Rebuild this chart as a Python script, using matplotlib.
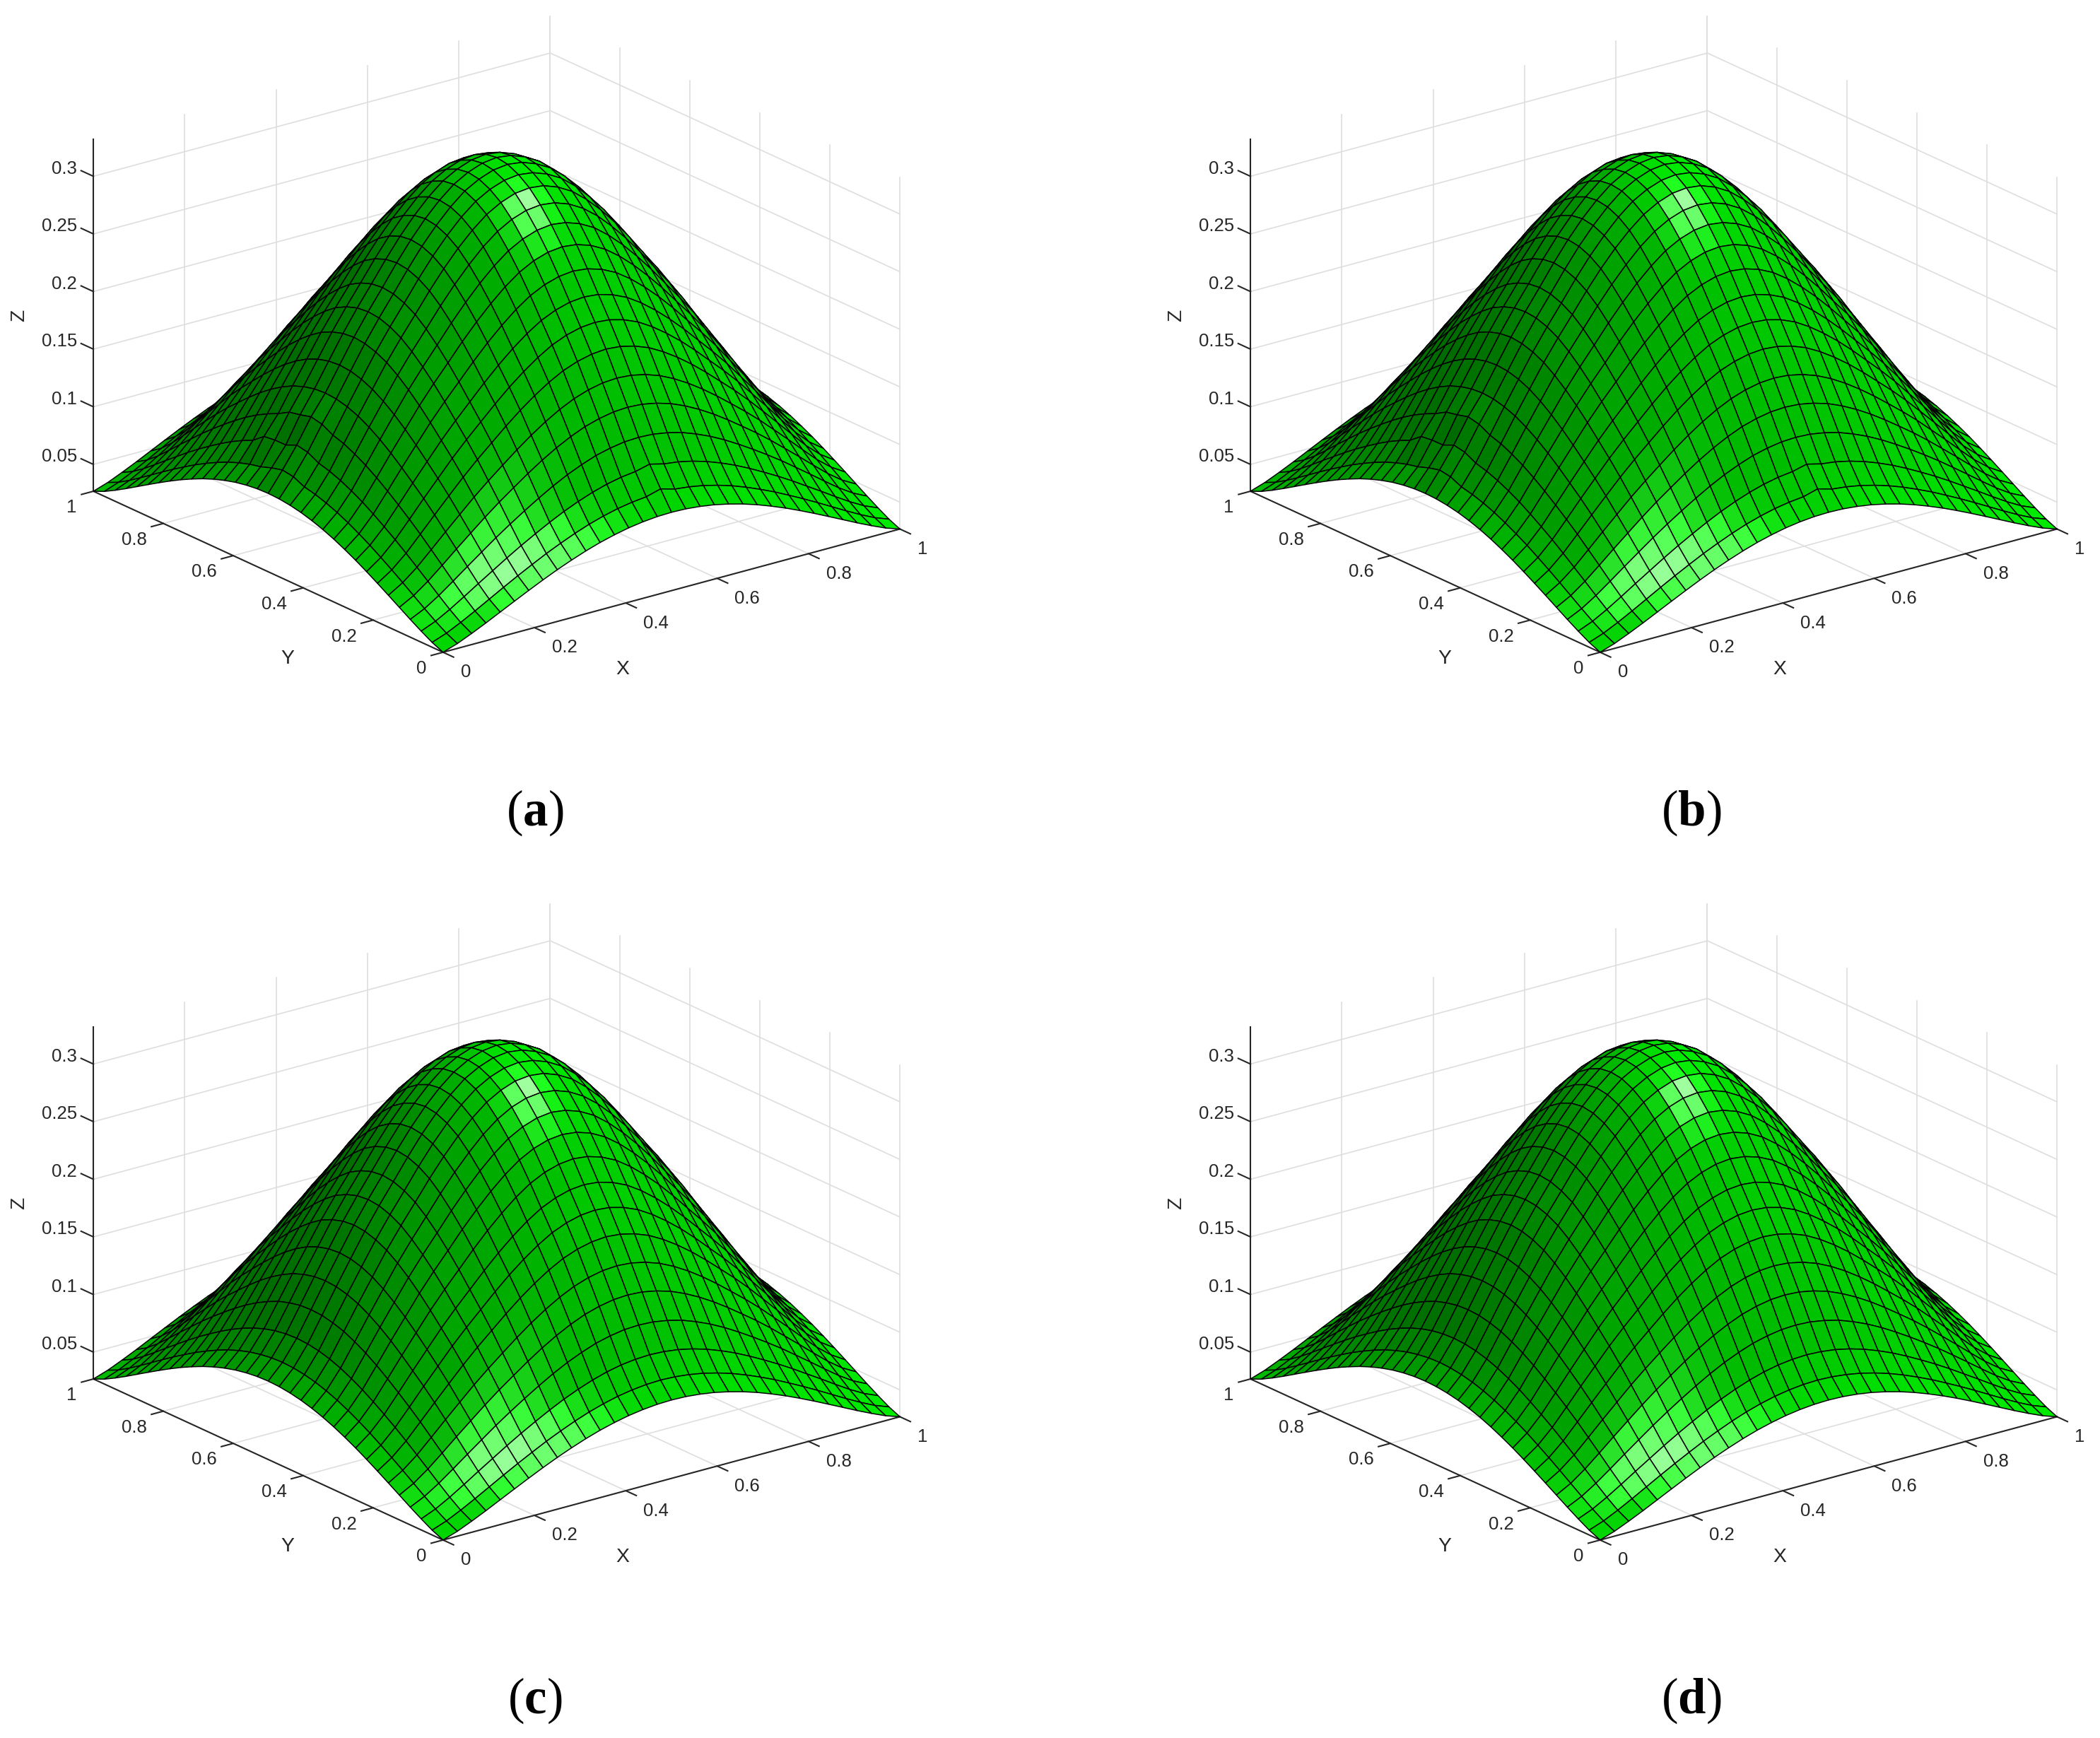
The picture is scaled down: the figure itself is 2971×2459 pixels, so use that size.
import matplotlib
matplotlib.use("Agg")
import matplotlib.pyplot as plt
import numpy as np
from mpl_toolkits.mplot3d import proj3d

plt.rcParams['font.family'] = ['Liberation Sans', 'DejaVu Sans']
plt.rcParams['mathtext.fontset'] = 'custom'
plt.rcParams['mathtext.rm'] = 'Liberation Serif'
plt.rcParams['mathtext.bf'] = 'Liberation Serif:bold'

# heights, x 0..0.5 (rows) and y 0..0.5 (columns), in 1e-4
Z_QUARTER = [
    [267, 309, 363, 421, 482, 543, 603, 661, 716, 766, 812, 852, 885, 912, 931, 943, 947],
    [309, 355, 415, 481, 550, 619, 686, 750, 812, 868, 920, 966, 1004, 1035, 1057, 1071, 1076],
    [363, 415, 484, 561, 641, 719, 797, 871, 940, 1006, 1067, 1120, 1166, 1203, 1230, 1246, 1252],
    [421, 481, 561, 652, 746, 838, 929, 1014, 1095, 1172, 1244, 1308, 1362, 1408, 1439, 1460, 1466],
    [482, 550, 641, 746, 854, 959, 1063, 1161, 1252, 1341, 1424, 1498, 1562, 1615, 1652, 1676, 1684],
    [543, 619, 719, 838, 959, 1077, 1194, 1302, 1404, 1504, 1597, 1681, 1754, 1814, 1857, 1884, 1893],
    [603, 686, 797, 929, 1063, 1194, 1323, 1443, 1555, 1666, 1770, 1863, 1945, 2013, 2060, 2090, 2101],
    [661, 750, 871, 1014, 1161, 1302, 1443, 1572, 1693, 1814, 1927, 2028, 2118, 2193, 2245, 2278, 2289],
    [716, 812, 940, 1095, 1252, 1404, 1555, 1693, 1823, 1953, 2074, 2184, 2281, 2362, 2418, 2454, 2466],
    [766, 868, 1006, 1172, 1341, 1504, 1666, 1814, 1953, 2093, 2224, 2342, 2447, 2534, 2595, 2633, 2647],
    [812, 920, 1067, 1244, 1424, 1597, 1770, 1927, 2074, 2224, 2362, 2488, 2600, 2693, 2759, 2800, 2814],
    [852, 966, 1120, 1308, 1498, 1681, 1863, 2028, 2184, 2342, 2488, 2621, 2738, 2836, 2904, 2947, 2963],
    [885, 1004, 1166, 1362, 1562, 1754, 1945, 2118, 2281, 2447, 2600, 2738, 2861, 2960, 3031, 3075, 3090],
    [912, 1035, 1203, 1408, 1615, 1814, 2013, 2193, 2362, 2534, 2693, 2836, 2960, 3063, 3134, 3180, 3194],
    [931, 1057, 1230, 1439, 1652, 1857, 2060, 2245, 2418, 2595, 2759, 2904, 3031, 3134, 3204, 3249, 3265],
    [943, 1071, 1246, 1460, 1676, 1884, 2090, 2278, 2454, 2633, 2800, 2947, 3075, 3180, 3249, 3295, 3311],
    [947, 1076, 1252, 1466, 1684, 1893, 2101, 2289, 2466, 2647, 2814, 2963, 3090, 3194, 3265, 3311, 3327],
]
# kinks seen only in panels a and b: (x index, y index, change in 1e-4)
KINKS_AB = [(1, 15, 30), (1, 16, 40), (1, 17, 20), (2, 15, 34), (2, 16, 47), (2, 17, 10),
            (2, 18, 25), (2, 19, 40), (3, 15, 30), (3, 16, 45), (3, 17, 25), (3, 18, 25),
            (16, 1, 30), (16, 2, 25)]

panel_names = ['a', 'b', 'c', 'd']
x_ticks = [0, 0.2, 0.4, 0.6, 0.8, 1]
y_ticks = [0, 0.2, 0.4, 0.6, 0.8, 1]
z_ticks = [0.05, 0.1, 0.15, 0.2, 0.25, 0.3]
x_labels = ['0', '0.2', '0.4', '0.6', '0.8', '1']
y_labels = ['0', '0.2', '0.4', '0.6', '0.8', '1']
z_labels = ['0.05', '0.1', '0.15', '0.2', '0.25', '0.3']

Z_LO = 0.0267
Z_HI = 0.332
ASPECT = 0.6535
W, H = 2971, 2459
AX_PX = 1231
CENTER = {'a': (686, 489.5), 'b': (2323, 489.5), 'c': (686, 1745.5), 'd': (2323, 1745.5)}
CAPTION = {'a': (757, 1150), 'b': (2393, 1150), 'c': (757, 2406), 'd': (2393, 2406)}

LIGHT = np.array([0.207, -0.286, 0.936])
HALF_TOP = np.array([-0.16, -0.78, 1.0])
HALF_FRONT = np.array([-0.5, -0.75, 1.0])
FADE_FRONT = [1, 1, 0.9, 0.6, 0.3, 0.1]
FADE_TOP = [0, 0.1, 0.3, 0.6, 0.85]
DARK = (0.15, 0.15, 0.15)
GRID = (0.87, 0.87, 0.87)


def tabla_completa(kinks):
    q = np.array(Z_QUARTER, dtype=float) / 1e4
    top = np.hstack([q, q[:, -2::-1]])
    z = np.vstack([top, top[-2::-1, :]])
    for i, j, dz in kinks:
        z[i, j] += dz / 1e4
    return z


def colores(z):
    # flat MATLAB-like phong shading per cell, hot spots placed by hand
    n = z.shape[0] - 1
    zb = (z - Z_LO) / (Z_HI - Z_LO) * ASPECT
    dx = (zb[1:, :-1] + zb[1:, 1:] - zb[:-1, :-1] - zb[:-1, 1:]) / 2 * n
    dy = (zb[:-1, 1:] + zb[1:, 1:] - zb[:-1, :-1] - zb[1:, :-1]) / 2 * n
    norm = np.sqrt(dx**2 + dy**2 + 1)
    nor = np.dstack([-dx / norm, -dy / norm, 1 / norm])
    luz = LIGHT / np.linalg.norm(LIGHT)
    dif = np.clip(nor @ luz, 0, 1)
    s_top = np.clip(nor @ (HALF_TOP / np.linalg.norm(HALF_TOP)), 0, 1) ** 80
    s_front = np.clip(nor @ (HALF_FRONT / np.linalg.norm(HALF_FRONT)), 0, 1) ** 80
    peso_front = np.zeros(n)
    peso_front[:len(FADE_FRONT)] = FADE_FRONT
    peso_top = np.ones(n)
    peso_top[:8] = 0
    peso_top[8:8 + len(FADE_TOP)] = FADE_TOP
    spec = 0.6 * peso_front * s_front + 0.85 * peso_top * s_top
    g = 0.2 + 0.72 * dif + 1.1 * spec
    r = spec
    col = np.dstack([r, g, r, np.ones_like(r)])
    return np.clip(col, 0, 1)


def texto(ax, x, y, z, s, **kw):
    # 2D annotation at the projected point of the 3D axes
    px, py, _ = proj3d.proj_transform(x, y, z, ax.get_proj())
    ax.annotate(s, (px, py), color=DARK, annotation_clip=False, **kw)


def panel(fig, nombre, z):
    cx, cy = CENTER[nombre]
    ax = fig.add_axes([(cx - AX_PX / 2) / W, 1 - (cy + AX_PX / 2) / H, AX_PX / W, AX_PX / H],
                      projection='3d', proj_type='ortho')
    ax.computed_zorder = False
    ax.patch.set_alpha(0)
    ax.set_box_aspect((1, 1, ASPECT))
    ax.view_init(elev=20.64, azim=-127.43)
    ax.set_xlim(0, 1, view_margin=0)
    ax.set_ylim(0, 1, view_margin=0)
    ax.set_zlim(Z_LO, Z_HI, view_margin=0)
    ax.set_xticks([])
    ax.set_yticks([])
    ax.set_zticks([])
    ax.set_axis_off()

    # back walls and floor
    for t in x_ticks:
        ax.plot([t, t], [0, 1], [Z_LO, Z_LO], color=GRID, lw=0.4, zorder=1)
        ax.plot([t, t], [1, 1], [Z_LO, Z_HI], color=GRID, lw=0.4, zorder=1)
    for t in y_ticks:
        ax.plot([0, 1], [t, t], [Z_LO, Z_LO], color=GRID, lw=0.4, zorder=1)
        ax.plot([1, 1], [t, t], [Z_LO, Z_HI], color=GRID, lw=0.4, zorder=1)
    for t in z_ticks:
        ax.plot([0, 1], [1, 1], [t, t], color=GRID, lw=0.4, zorder=1)
        ax.plot([1, 1], [0, 1], [t, t], color=GRID, lw=0.4, zorder=1)

    # axis lines and ticks
    ax.plot([0, 1], [0, 0], [Z_LO, Z_LO], color=DARK, lw=0.5, zorder=2)
    ax.plot([0, 0], [0, 1], [Z_LO, Z_LO], color=DARK, lw=0.5, zorder=2)
    ax.plot([0, 0], [1, 1], [Z_LO, Z_HI], color=DARK, lw=0.5, zorder=2)
    for t, s in zip(x_ticks, x_labels):
        ax.plot([t, t], [0, -0.03], [Z_LO, Z_LO], color=DARK, lw=0.5, zorder=2)
        texto(ax, t, -0.05, Z_LO - 0.0105, s, ha='left', va='center', fontsize=6.2)
    for t, s in zip(y_ticks, y_labels):
        ax.plot([0, -0.026], [t, t], [Z_LO, Z_LO], color=DARK, lw=0.5, zorder=2)
        texto(ax, -0.036, t, Z_LO - 0.0104, s, ha='right', va='center', fontsize=6.2)
    for t, s in zip(z_ticks, z_labels):
        ax.plot([0, 0], [1, 1.035], [t, t], color=DARK, lw=0.5, zorder=2)
        texto(ax, 0, 1.047, t, s, ha='right', va='center', fontsize=6.2)
    texto(ax, 0.1977, -0.256, Z_LO, 'X', ha='center', va='center', fontsize=6.8)
    texto(ax, -0.2339, 0.139, Z_LO, 'Y', ha='center', va='center', fontsize=6.8)
    texto(ax, 0, 1.2115, 0.1494, 'Z', ha='center', va='center', fontsize=6.8, rotation=90)

    n = z.shape[0]
    x = np.arange(n) / (n - 1)
    xx, yy = np.meshgrid(x, x, indexing='ij')
    ax.plot_surface(xx, yy, z, rstride=1, cstride=1, facecolors=colores(z), shade=False,
                    edgecolor='black', linewidth=0.36, antialiased=True, zorder=3)
    px, py = CAPTION[nombre]
    fig.text(px / W, 1 - py / H, '(' + r'$\mathbf{' + nombre + r'}$' + ')', ha='center', va='center',
             fontsize=17, family='Liberation Serif', color='black')


fig = plt.figure(figsize=(W / 300, H / 300), dpi=300)
z_ab = tabla_completa(KINKS_AB)
z_cd = tabla_completa([])
for nombre in panel_names:
    panel(fig, nombre, z_ab if nombre in 'ab' else z_cd)
fig.savefig('out.png', dpi=300)
